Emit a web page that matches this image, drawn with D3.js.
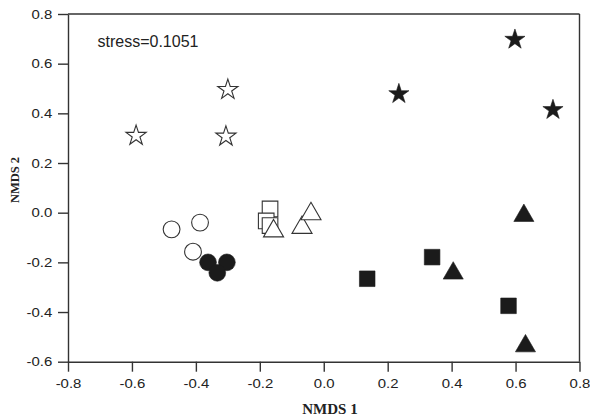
<!DOCTYPE html>
<html>
<head>
<meta charset="utf-8">
<script src="https://cdn.jsdelivr.net/npm/d3@7/dist/d3.min.js"></script>
<style>
  html, body { margin: 0; padding: 0; background: #fff; }
  svg { display: block; }
</style>
</head>
<body>
<svg id="chart" width="590" height="420"></svg>
<script>
// NMDS ordination scores, one small array per group
const openStarX = [-0.587, -0.300, -0.306];
const openStarY = [0.310, 0.495, 0.307];
const filledStarX = [0.598, 0.235, 0.717];
const filledStarY = [0.697, 0.478, 0.414];
const openCircleX = [-0.476, -0.387, -0.409];
const openCircleY = [-0.067, -0.040, -0.157];
const filledCircleX = [-0.362, -0.303, -0.333];
const filledCircleY = [-0.200, -0.200, -0.242];
const openSquareX = [-0.168, -0.180, -0.168];
const openSquareY = [0.015, -0.033, -0.052];
const openTriangleX = [-0.157, -0.068, -0.040];
const openTriangleY = [-0.074, -0.060, -0.005];
const filledSquareX = [0.136, 0.339, 0.578];
const filledSquareY = [-0.266, -0.179, -0.375];
const filledTriangleX = [0.626, 0.405, 0.631];
const filledTriangleY = [-0.012, -0.244, -0.537];

const xTicks = [-0.8, -0.6, -0.4, -0.2, 0.0, 0.2, 0.4, 0.6, 0.8];
const xTickLabels = ["-0.8", "-0.6", "-0.4", "-0.2", "0.0", "0.2", "0.4", "0.6", "0.8"];
const yTicks = [-0.6, -0.4, -0.2, 0.0, 0.2, 0.4, 0.6, 0.8];
const yTickLabels = ["-0.6", "-0.4", "-0.2", "0.0", "0.2", "0.4", "0.6", "0.8"];
const stressLabel = "stress=0.1051";
const xTitle = "NMDS 1";
const yTitle = "NMDS 2";

const svg = d3.select("#chart");
const plotLeft = 68, plotRight = 579.5, plotTop = 14, plotBottom = 361.7;

const x = d3.scaleLinear().domain([-0.8, 0.8]).range([plotLeft, plotRight]);
const y = d3.scaleLinear().domain([-0.6, 0.8]).range([plotBottom, plotTop]);

const axisColor = "#333";
const tickFont = "'Liberation Sans', Arial, sans-serif";
const stretch = 1.15;

// Axes
const gx = svg.append("g")
  .attr("transform", `translate(0,${plotBottom})`)
  .call(d3.axisBottom(x).tickValues(xTicks)
    .tickFormat((d, i) => xTickLabels[i])
    .tickSize(10).tickSizeOuter(0).tickPadding(7.3));
const gy = svg.append("g")
  .attr("transform", `translate(${plotLeft},0)`)
  .call(d3.axisLeft(y).tickValues(yTicks)
    .tickFormat((d, i) => yTickLabels[i])
    .tickSize(10).tickSizeOuter(0).tickPadding(5.7));

[gx, gy].forEach(g => {
  g.selectAll("path.domain, line").attr("stroke", axisColor).attr("stroke-width", 1.4);
  g.selectAll("text")
    .attr("fill", "#222")
    .style("font-family", tickFont)
    .style("font-size", "13px")
    .each(function () {
      const t = d3.select(this);
      const tx = +t.attr("x") || 0, ty = +t.attr("y") || 0;
      t.attr("transform", `translate(${tx},${ty}) scale(${stretch},1) translate(${-tx},${-ty})`);
    });
});

// Frame: top and right sides
svg.append("line").attr("x1", plotLeft).attr("x2", plotRight).attr("y1", plotTop).attr("y2", plotTop)
  .attr("stroke", axisColor).attr("stroke-width", 1.4);
svg.append("line").attr("x1", plotRight).attr("x2", plotRight).attr("y1", plotTop).attr("y2", plotBottom)
  .attr("stroke", axisColor).attr("stroke-width", 1.4);

// Symbols
const kaStar = 0.8908130915292852;
const shapes = {
  star: d3.symbol(d3.symbolStar, 10.6 * 10.6 / kaStar),
  circle: d3.symbol(d3.symbolCircle, Math.PI * 8.4 * 8.4),
  square: d3.symbol(d3.symbolSquare, 15.6 * 15.6),
  triangle: d3.symbol(d3.symbolTriangle, 5.8 * 5.8 * 3 * Math.sqrt(3))
};

const groups = [
  { xs: openStarX, ys: openStarY, shape: "star", filled: false },
  { xs: filledStarX, ys: filledStarY, shape: "star", filled: true },
  { xs: openCircleX, ys: openCircleY, shape: "circle", filled: false },
  { xs: filledCircleX, ys: filledCircleY, shape: "circle", filled: true },
  { xs: openSquareX, ys: openSquareY, shape: "square", filled: false },
  { xs: openTriangleX, ys: openTriangleY, shape: "triangle", filled: false },
  { xs: filledSquareX, ys: filledSquareY, shape: "square", filled: true },
  { xs: filledTriangleX, ys: filledTriangleY, shape: "triangle", filled: true }
];

const plot = svg.append("g");
groups.forEach(g => {
  const pts = g.xs.map((v, i) => [v, g.ys[i]]);
  plot.append("g").selectAll("path")
    .data(pts)
    .join("path")
    .attr("d", shapes[g.shape])
    .attr("transform", d => `translate(${x(d[0])},${y(d[1])})`)
    .attr("fill", g.filled ? "#1b1b1b" : "#fff")
    .attr("stroke", g.filled ? "#1b1b1b" : "#333")
    .attr("stroke-width", g.filled ? 0.6 : 1.1)
    .attr("stroke-linejoin", "miter");
});

// Stress annotation
svg.append("text")
  .attr("x", 97.5).attr("y", 46.5)
  .attr("fill", "#222")
  .style("font-family", tickFont)
  .style("font-size", "16px")
  .text(stressLabel);

// Axis titles
svg.append("text")
  .attr("x", 330).attr("y", 414)
  .attr("text-anchor", "middle")
  .attr("fill", "#222")
  .style("font-family", "'Liberation Serif', 'Times New Roman', serif")
  .style("font-weight", "bold")
  .style("font-size", "15px")
  .text(xTitle);

svg.append("text")
  .attr("transform", "translate(18.5,180) rotate(-90)")
  .attr("text-anchor", "middle")
  .attr("fill", "#222")
  .style("font-family", "'Liberation Serif', 'Times New Roman', serif")
  .style("font-weight", "bold")
  .style("font-size", "12.5px")
  .text(yTitle);
</script>
</body>
</html>
